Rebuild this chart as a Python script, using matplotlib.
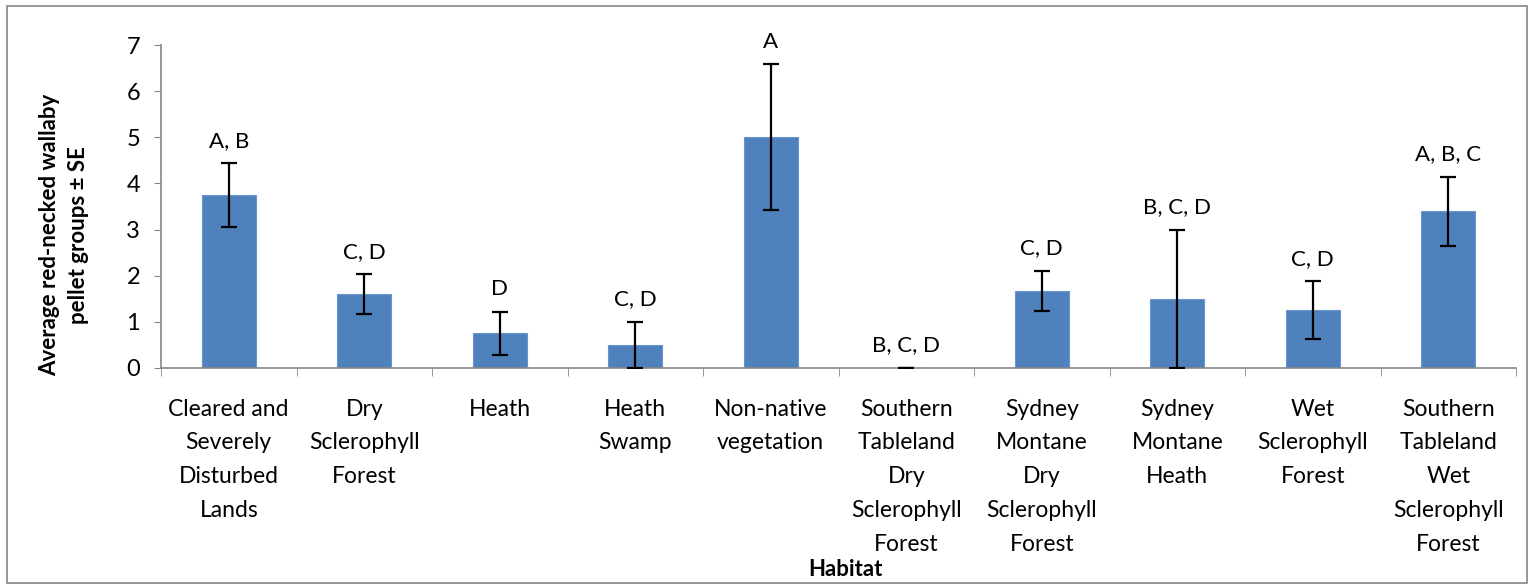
import matplotlib
matplotlib.use("Agg")
import matplotlib.pyplot as plt
from matplotlib.patches import Rectangle
import numpy as np

plt.rcParams['font.family'] = ['Lato', 'DejaVu Sans']

habitats = [
    "Cleared and\nSeverely\nDisturbed\nLands",
    "Dry\nSclerophyll\nForest",
    "Heath",
    "Heath\nSwamp",
    "Non-native\nvegetation",
    "Southern\nTableland\nDry\nSclerophyll\nForest",
    "Sydney\nMontane\nDry\nSclerophyll\nForest",
    "Sydney\nMontane\nHeath",
    "Wet\nSclerophyll\nForest",
    "Southern\nTableland\nWet\nSclerophyll\nForest",
]
mean_pellets = [3.75, 1.6, 0.75, 0.5, 5.0, 0.0, 1.67, 1.5, 1.25, 3.4]
se_pellets = [0.69, 0.43, 0.47, 0.5, 1.58, 0.0, 0.44, 1.5, 0.63, 0.75]
groups = ["A, B", "C, D", "D", "C, D", "A", "B, C, D", "C, D", "B, C, D", "C, D", "A, B, C"]

fig = plt.figure(figsize=(15.36, 5.86), dpi=100)
ax = fig.add_axes([161 / 1536, 1 - 368 / 586, (1516 - 161) / 1536, (368 - 45) / 586])

x = np.arange(len(habitats))
ax.bar(x, mean_pellets, width=0.4, color="#4F81BD", edgecolor="#6B96CB", linewidth=0.8, zorder=2)
ax.errorbar(x, mean_pellets, yerr=se_pellets, fmt="none", ecolor="black",
            elinewidth=1.6, capsize=5.5, capthick=1.6, zorder=3)

for xi, m, s, g in zip(x, mean_pellets, se_pellets, groups):
    ax.annotate(g, (xi, m + s), xytext=(0, 9), textcoords="offset points",
                ha="center", va="bottom", fontsize=16)

ax.set_xlim(-0.5, len(habitats) - 0.5)
ax.set_ylim(0, 7)
ax.set_yticks(range(0, 8))
ax.tick_params(axis="y", labelsize=17, direction="out", length=5, color="#868686", pad=10)

ax.set_xticks(x)
ax.set_xticklabels(habitats, fontsize=16.5, linespacing=1.75, va="top")
ax.set_xticks(np.arange(-0.5, len(habitats)), minor=True)
ax.tick_params(axis="x", which="major", length=0, pad=22)
ax.tick_params(axis="x", which="minor", length=6, color="#868686", direction="out")

for side in ["top", "right"]:
    ax.spines[side].set_visible(False)
for side in ["left", "bottom"]:
    ax.spines[side].set_color("#868686")
    ax.spines[side].set_linewidth(1.2)

fig.text(64 / 1536, 1 - 235 / 586, "Average red-necked wallaby\npellet groups \u00b1 SE",
         rotation=90, ha="center", va="center", fontsize=16, fontweight="bold",
         linespacing=1.45)
fig.text(845 / 1536, 1 - 569 / 586, "Habitat", ha="center", va="center",
         fontsize=16, fontweight="bold")

fig.patches.append(Rectangle((7 / 1536, 1 - 583 / 586), 1520 / 1536, 577 / 586,
                             transform=fig.transFigure, fill=False,
                             edgecolor="#868686", linewidth=1.2))

fig.savefig("out.png", dpi=100)
